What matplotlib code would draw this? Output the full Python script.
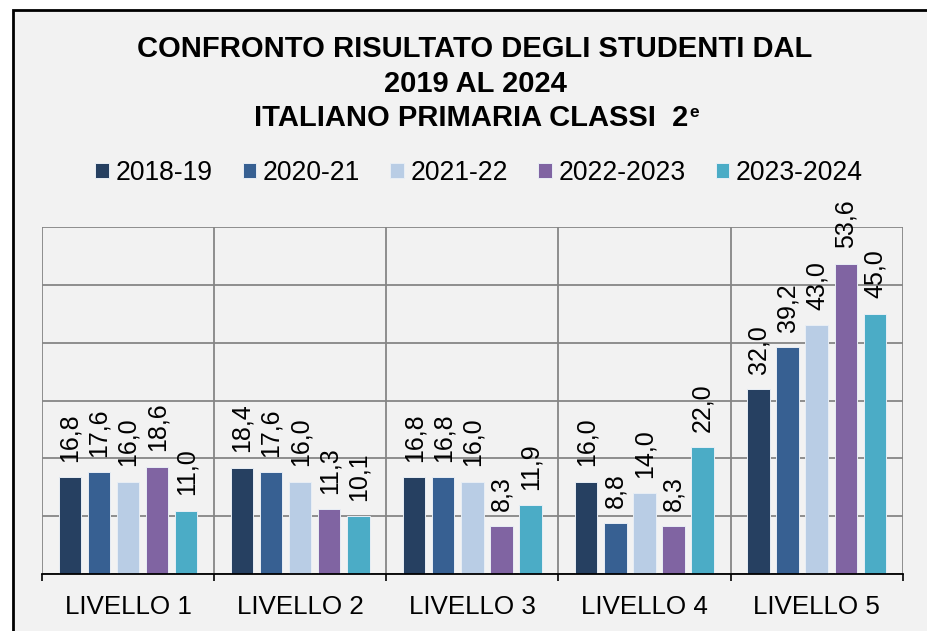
import matplotlib
matplotlib.use('Agg')
import matplotlib.pyplot as plt
import numpy as np
from matplotlib.patches import Rectangle

plt.rcParams['font.family'] = ['Liberation Sans', 'DejaVu Sans']

categories = ['LIVELLO 1', 'LIVELLO 2', 'LIVELLO 3', 'LIVELLO 4', 'LIVELLO 5']
series_names = ['2018-19', '2020-21', '2021-22', '2022-2023', '2023-2024']
v_2018_19 = [16.8, 18.4, 16.8, 16.0, 32.0]
v_2020_21 = [17.6, 17.6, 16.8, 8.8, 39.2]
v_2021_22 = [16.0, 16.0, 16.0, 14.0, 43.0]
v_2022_23 = [18.6, 11.3, 8.3, 8.3, 53.6]
v_2023_24 = [11.0, 10.1, 11.9, 22.0, 45.0]
series_values = [v_2018_19, v_2020_21, v_2021_22, v_2022_23, v_2023_24]
colors = ['#264061', '#376092', '#B9CDE5', '#8064A2', '#4BACC6']

fig = plt.figure(figsize=(9.28, 6.31), dpi=100, facecolor='white')

# chart frame (light gray area with black border, cut at right/bottom)
fig.patches.append(Rectangle((13 / 928, -0.05), 1.0, 1 - 10 / 631 + 0.05,
                             transform=fig.transFigure, facecolor='#f2f2f2',
                             edgecolor='black', linewidth=2, zorder=-5))

ax = fig.add_axes([42 / 928, 1 - 574.3 / 631, (902.7 - 42) / 928, (574.3 - 226.7) / 631])
ax.set_facecolor('none')
ax.set_zorder(2)

x = np.arange(len(categories))
pitch = 0.169
width = 0.13
bars = []
for i, (name, vals, col) in enumerate(zip(series_names, series_values, colors)):
    b = ax.bar(x + (i - 2) * pitch, vals, width, color=col, label=name,
               edgecolor='#e8eef5', linewidth=0.7, zorder=3)
    bars.append(b)
    for rect, v in zip(b, vals):
        ax.annotate(f'{v:.1f}'.replace('.', ','),
                    (rect.get_x() + rect.get_width() / 2, v),
                    xytext=(0, 11), textcoords='offset points',
                    rotation=90, ha='center', va='bottom', fontsize=18,
                    color='black', zorder=4, annotation_clip=False)

ax.set_xlim(-0.5, 4.5)
ax.set_ylim(0, 60)
ax.set_yticks(np.arange(0, 61, 10))
ax.set_yticklabels([])
ax.set_xticks(x)
ax.set_xticklabels(categories, fontsize=18.7)
ax.set_xticks(np.arange(-0.5, 5, 1), minor=True)
ax.tick_params(axis='x', which='major', length=0, pad=15)
ax.tick_params(axis='x', which='minor', length=5, width=1.2, color='black', direction='out')
ax.tick_params(axis='y', length=0)

ax.grid(axis='y', which='major', color='#868686', linewidth=1.3, zorder=1)
ax.grid(axis='x', which='minor', color='#868686', linewidth=1.3, zorder=1)
ax.set_axisbelow(True)
for s in ['left', 'right', 'top']:
    ax.spines[s].set_visible(False)
ax.spines['bottom'].set_color('black')
ax.spines['bottom'].set_linewidth(1.3)
ax.spines['bottom'].set_zorder(5)

# title
tx = 475 / 928
fig.text(tx, 1 - 57.3 / 631, 'CONFRONTO RISULTATO DEGLI STUDENTI DAL',
         ha='center', va='baseline', fontsize=21, fontweight='bold')
fig.text(tx, 1 - 91.7 / 631, '2019 AL 2024',
         ha='center', va='baseline', fontsize=21, fontweight='bold')
fig.text(688 / 928, 1 - 125.7 / 631, 'ITALIANO PRIMARIA CLASSI  2',
         ha='right', va='baseline', fontsize=21, fontweight='bold')
fig.text(689 / 928, 1 - 117 / 631, 'e',
         ha='left', va='baseline', fontsize=12.5, fontweight='bold')

fig.legend(handles=bars, labels=series_names, loc='center',
           bbox_to_anchor=(479 / 928, 1 - 173 / 631), ncol=5, frameon=False,
           fontsize=19.1, handlelength=0.5, handleheight=0.5,
           handletextpad=0.25, columnspacing=1.15, borderpad=0, borderaxespad=0)

fig.savefig('out.png', dpi=100, facecolor=fig.get_facecolor())
